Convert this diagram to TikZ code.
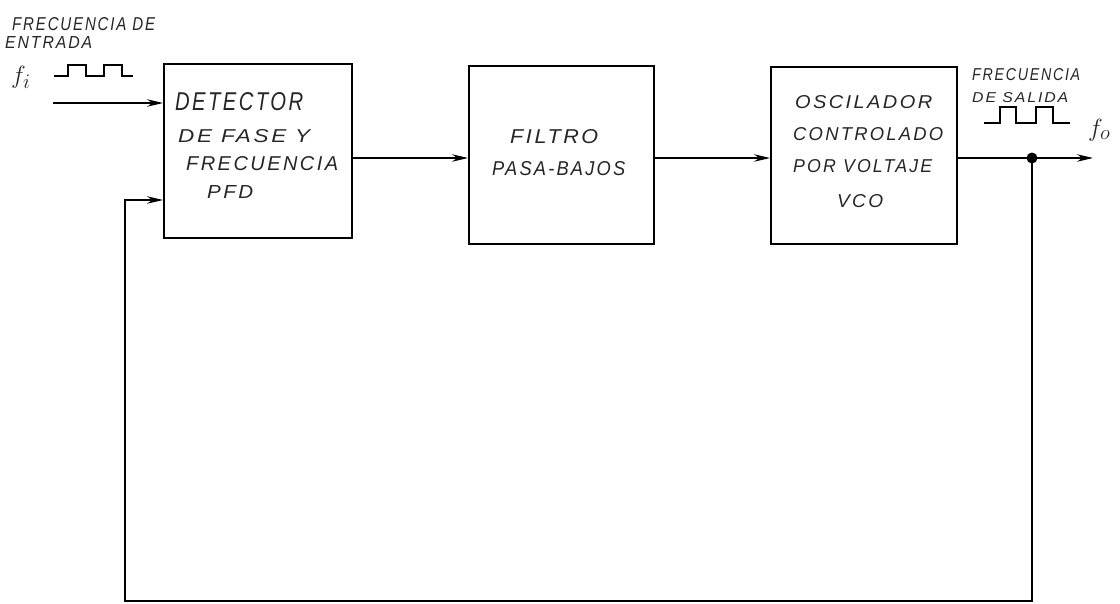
\documentclass[tikz,border=0pt]{standalone}
\usepackage{fontspec}
\usepackage{graphicx}
\setmainfont{Liberation Sans}
\newfontfamily\hwfam{Liberation Sans}[LetterSpace=12]
\usetikzlibrary{arrows.meta}
\newcommand\hwt[3]{\resizebox{#1pt}{#2pt}{\hwfam\itshape #3}}
\begin{document}
\begin{tikzpicture}[x=1pt,y=-1pt]
\useasboundingbox[fill=white] (0,0) rectangle (1120,603);
\tikzset{
  blk/.style={draw, line width=1.7pt, inner sep=0pt, anchor=north west},
  wire/.style={line width=1.3pt},
  arr/.style={wire, -{Stealth[length=16pt,width=7.5pt]}},
  hand/.style={anchor=base west, inner sep=0pt, text=black!85},
  wave/.style={line width=1.1pt},
}
% blocks
\node[blk, minimum width=188pt, minimum height=174pt] (pfd) at (163,63) {};
\node[blk, minimum width=185pt, minimum height=178pt] (flt) at (468,65) {};
\node[blk, minimum width=186pt, minimum height=177pt] (vco) at (770,66) {};
% block texts
\node[hand] (t1) at (175,110) {\hwt{128}{18}{DETECTOR}};
\node[hand] (t2) at (178,142) {\hwt{132}{13}{DE FASE Y}};
\node[hand] (t3) at (186,170) {\hwt{152}{14}{FRECUENCIA}};
\node[hand] (t4) at (207,198) {\hwt{46}{13}{PFD}};
\node[hand] (t5) at (510,143) {\hwt{88}{14}{FILTRO}};
\node[hand] (t6) at (492,175) {\hwt{133}{14}{PASA-BAJOS}};
\node[hand] (t7) at (795,108) {\hwt{137}{13}{OSCILADOR}};
\node[hand] (t8) at (793,140) {\hwt{150}{13}{CONTROLADO}};
\node[hand] (t9) at (793,172) {\hwt{139}{13}{POR VOLTAJE}};
\node[hand] (t10) at (837,207) {\hwt{46}{13}{VCO}};
% labels
\node[hand] (l1) at (12,30) {\hwt{143}{13}{FRECUENCIA DE}};
\node[hand] (l2) at (5,48) {\hwt{87}{12}{ENTRADA}};
\node[hand] (fi) at (11,83) {\fontsize{30}{30}\selectfont$f_i$};
\node[hand] (l3) at (972,80) {\hwt{108}{12}{FRECUENCIA}};
\node[hand] (l4) at (972,102) {\hwt{96}{10}{DE SALIDA}};
\node[hand] (fo) at (1088,136) {\fontsize{30}{30}\selectfont$f_o$};
% waves
\draw[wave] (54,76) -- (68,76) -- (68,65) -- (86,65) -- (86,76) -- (104,76) -- (104,65) -- (122,65) -- (122,76) -- (133,76);
\draw[wave] (984,123) -- (1000,123) -- (1000,107) -- (1016,107) -- (1016,123) -- (1036,123) -- (1036,107) -- (1053,107) -- (1053,123) -- (1070,123);
% connectors
\coordinate (in) at (53,103);
\coordinate (m) at (0,158);
\coordinate (dot) at (1032,158);
\coordinate (out) at (1093,158);
\coordinate (bl) at (125,601);
\coordinate (fb) at (125,200);
\draw[arr] (in) -- (in -| pfd.west);
\draw[arr] (pfd.east |- m) -- (flt.west |- m);
\draw[arr] (flt.east |- m) -- (vco.west |- m);
\draw[arr] (vco.east |- m) -- (out);
\draw[arr] (dot) |- (bl) |- (pfd.west |- fb);
\fill (dot) circle (5.5pt);
\end{tikzpicture}
\end{document}
